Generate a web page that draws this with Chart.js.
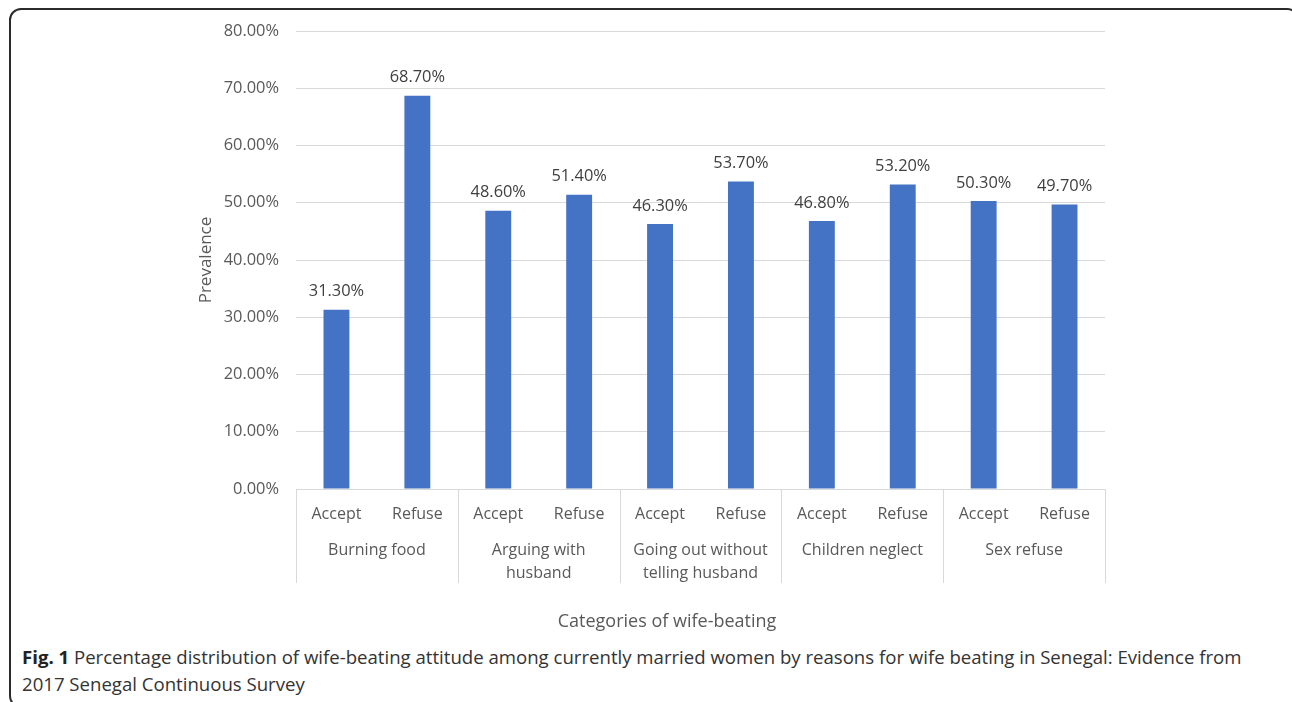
<!DOCTYPE html>
<html>
<head>
<meta charset="utf-8">
<script src="https://cdn.jsdelivr.net/npm/chart.js@4.4.0/dist/chart.umd.min.js"></script>
<style>
  html, body { margin: 0; padding: 0; background: #fff; }
  body { width: 1292px; height: 702px; position: relative; overflow: hidden; font-family: "Open Sans", sans-serif; }
  #frame {
    position: absolute; left: 9px; top: 8px; width: 1290px; height: 700px;
    border: 2px solid #2b2b2b; border-radius: 12px; box-sizing: border-box;
  }
  #wrap { position: absolute; left: 0; top: 0; width: 1292px; height: 640px; }
  #caption {
    position: absolute; left: 22px; top: 643px; font-size: 18.6px; line-height: 27px;
    color: #333; white-space: nowrap;
  }
  #caption b { color: #222; }
</style>
</head>
<body>
<div id="frame"></div>
<div id="wrap"><canvas id="chart"></canvas></div>
<div id="caption"><b>Fig. 1</b> Percentage distribution of wife-beating attitude among currently married women by reasons for wife beating in Senegal: Evidence from<br>2017 Senegal Continuous Survey</div>
<script>
// Categories and values
const groups = ['Burning food', ['Arguing with', 'husband'], ['Going out without', 'telling husband'], 'Children neglect', 'Sex refuse'];
const answers = ['Accept', 'Refuse'];
const acceptValues = [31.3, 48.6, 46.3, 46.8, 50.3];
const refuseValues = [68.7, 51.4, 53.7, 53.2, 49.7];
const yTicks = [0, 10, 20, 30, 40, 50, 60, 70, 80];
const xTitle = 'Categories of wife-beating';

const labels = [];
const values = [];
groups.forEach((g, i) => {
    labels.push(answers[0]);
    values.push(acceptValues[i]);
    labels.push(answers[1]);
    values.push(refuseValues[i]);
});

const textColor = '#595959';
const fontFamily = '"Open Sans", sans-serif';

// Draws value labels above the bars
const valueLabels = {
    id: 'valueLabels',
    afterDatasetsDraw(chart) {
        const ctx = chart.ctx;
        const meta = chart.getDatasetMeta(0);
        ctx.save();
        ctx.font = '16.4px ' + fontFamily;
        ctx.fillStyle = '#404040';
        ctx.textAlign = 'center';
        ctx.textBaseline = 'middle';
        meta.data.forEach((bar, i) => {
            ctx.fillText(values[i].toFixed(2) + '%', bar.x, bar.y - 18);
        });
        ctx.restore();
    }
};

// Draws the outer group labels, separators and the x axis title
const groupAxis = {
    id: 'groupAxis',
    afterDraw(chart) {
        const ctx = chart.ctx;
        const x = chart.scales.x;
        const bottom = chart.chartArea.bottom;
        const step = x.getPixelForValue(1) - x.getPixelForValue(0);
        ctx.save();
        ctx.strokeStyle = '#d9d9d9';
        ctx.lineWidth = 1;
        for (let k = 0; k <= groups.length; k++) {
            const px = Math.round(x.getPixelForValue(k * 2) - step / 2) + 0.5;
            ctx.beginPath();
            ctx.moveTo(px, bottom);
            ctx.lineTo(px, 583);
            ctx.stroke();
        }
        ctx.font = '16px ' + fontFamily;
        ctx.fillStyle = textColor;
        ctx.textAlign = 'center';
        ctx.textBaseline = 'middle';
        groups.forEach((g, k) => {
            const cx = (x.getPixelForValue(k * 2) + x.getPixelForValue(k * 2 + 1)) / 2;
            const lines = Array.isArray(g) ? g : [g];
            lines.forEach((line, j) => ctx.fillText(line, cx, 550 + j * 23));
        });
        ctx.font = '18px ' + fontFamily;
        ctx.fillText(xTitle, 667, 622);
        ctx.restore();
    }
};

new Chart(document.getElementById('chart').getContext('2d'), {
    type: 'bar',
    data: {
        labels: labels,
        datasets: [{
            label: 'Prevalence',
            data: values,
            backgroundColor: '#4472C4',
            categoryPercentage: 1,
            barPercentage: 0.32
        }]
    },
    options: {
        responsive: true,
        maintainAspectRatio: false,
        animation: false,
        layout: { padding: { left: 196, right: 187, top: 31, bottom: 0 } },
        plugins: {
            legend: { display: false },
            tooltip: { enabled: false }
        },
        scales: {
            x: {
                grid: { display: false, drawTicks: false },
                border: { display: true, color: '#d9d9d9', width: 1 },
                ticks: { color: textColor, font: { family: fontFamily, size: 16 }, padding: 16, maxRotation: 0, autoSkip: false },
                afterFit(scale) { scale.height = 640 - 489; }
            },
            y: {
                min: 0,
                max: 80,
                afterBuildTicks(scale) { scale.ticks = yTicks.map(v => ({ value: v })); },
                grid: { color: '#d9d9d9', drawTicks: false },
                border: { display: false },
                ticks: {
                    color: textColor, font: { family: fontFamily, size: 16.4 }, padding: 17,
                    callback: v => v.toFixed(2) + '%'
                },
                title: { display: true, text: 'Prevalence', color: textColor, font: { family: fontFamily, size: 17 }, padding: 0 },
                afterFit(scale) { scale.width = 100; }
            }
        }
    },
    plugins: [valueLabels, groupAxis]
});
</script>
</body>
</html>
